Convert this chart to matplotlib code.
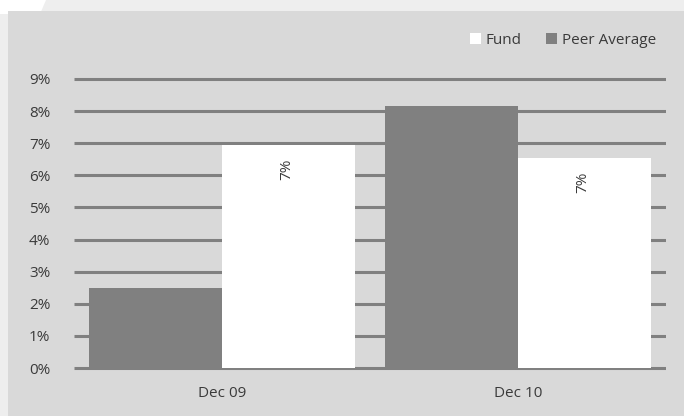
import numpy as np
import matplotlib
matplotlib.use("Agg")
import matplotlib.pyplot as plt
from matplotlib.patches import Rectangle, Polygon, Patch

plt.rcParams["font.family"] = ["Open Sans", "DejaVu Sans"]

# ── data ──────────────────────────────────────────────────────────────────────
categories   = ["Dec 09", "Dec 10"]
fund         = [6.95, 6.55]
peer_average = [2.5, 8.15]
fund_labels  = ["7%", "7%"]
yticks       = [0, 1, 2, 3, 4, 5, 6, 7, 8, 9]

W, H = 684, 416
BG_PANEL = "#d9d9d9"
GREY     = "#808080"
TXT      = "#3a3a3a"
FS       = 11

fig = plt.figure(figsize=(W / 100, H / 100), dpi=100)
fig.patch.set_facecolor("#eeeeee")

# white corner shape and grey panel behind the chart
fig.patches.append(Polygon([(0, 1), (46 / W, 1), (40 / W, 1 - 14 / H), (0, 1 - 14 / H)],
                           closed=True, transform=fig.transFigure,
                           facecolor="white", edgecolor="none", zorder=-2))
fig.patches.append(Rectangle((8 / W, 0), 1 - 8 / W, 1 - 11 / H,
                             transform=fig.transFigure, facecolor=BG_PANEL,
                             edgecolor="none", zorder=-1))

# axes placed so that 0% sits at y=368 px and 9% at y=79 px
y0_px, y9_px = 368, 79
per_pct = (y0_px - y9_px) / 9
ymin, ymax = -0.1, 9.1
bottom = (H - y0_px - 0.1 * per_pct) / H
top    = (H - y9_px + 0.1 * per_pct) / H
ax = fig.add_axes([74 / W, bottom, (666 - 74) / W, top - bottom])
ax.set_facecolor("none")

x = np.arange(len(categories))
bw = 0.45
ax.bar(x - bw / 2, peer_average, bw, color=GREY, zorder=2)
ax.bar(x + bw / 2, fund, bw, color="white", zorder=2)

for xi, v, lab in zip(x, fund, fund_labels):
    ax.annotate(lab, (xi + bw / 2, v), xytext=(-1, -10), textcoords="offset points",
                rotation=90, ha="center", va="top", fontsize=FS, color=TXT, zorder=3)

# horizontal gridlines
for t in yticks:
    ax.axhline(t, color=GREY, lw=2.2, zorder=1, solid_capstyle="butt")

ax.set_xlim(-0.5, 1.5)
ax.set_ylim(ymin, ymax)
ax.set_yticks(yticks)
ax.set_yticklabels([f"{t}%" for t in yticks])
ax.set_xticks(x)
ax.set_xticklabels(categories)
ax.tick_params(axis="both", length=0, labelsize=FS, labelcolor=TXT)
ax.tick_params(axis="y", pad=17)
ax.tick_params(axis="x", pad=11)
for s in ax.spines.values():
    s.set_visible(False)

handles = [Patch(facecolor="white", edgecolor="none", label="Fund"),
           Patch(facecolor=GREY, edgecolor="none", label="Peer Average")]
fig.legend(handles=handles, loc="center right", bbox_to_anchor=(662 / W, 1 - 40 / H),
           ncol=2, frameon=False, fontsize=FS, labelcolor=TXT,
           handlelength=0.75, handleheight=0.75, handletextpad=0.3,
           columnspacing=1.55, borderaxespad=0)

fig.savefig("out.png", dpi=100, facecolor=fig.get_facecolor())
